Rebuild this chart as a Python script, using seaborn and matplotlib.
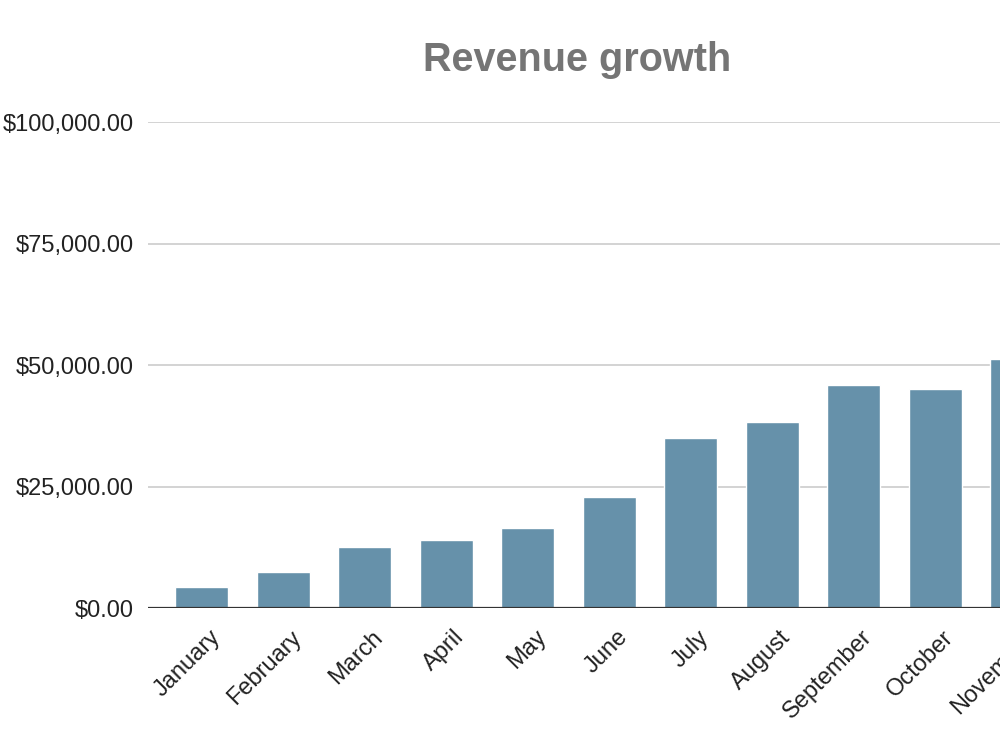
import matplotlib
matplotlib.use("Agg")
import matplotlib.pyplot as plt
import matplotlib.transforms as mtransforms
import seaborn as sns
from matplotlib.ticker import FuncFormatter

months = ["January", "February", "March", "April", "May", "June", "July",
          "August", "September", "October", "November"]
revenue = [4300, 7500, 12600, 13900, 16500, 22800, 35000, 38300, 45900,
           45000, 51200]
y_ticks = [0, 25000, 50000, 75000, 100000]

sns.set_theme(style="white")
plt.rcParams["font.family"] = ["Liberation Sans", "DejaVu Sans"]

fig = plt.figure(figsize=(10, 7.5), dpi=100)
# the chart runs past the right edge of the picture, so the axes do too
ax = fig.add_axes([0.148, 0.1893, 0.95, 0.648])

sns.barplot(x=months, y=revenue, color="#6691aa", saturation=1,
            width=0.65, ax=ax)

ax.set_xlim(-0.66, 11.0)
ax.set_ylim(0, 100000)
ax.set_yticks(y_ticks)
ax.yaxis.set_major_formatter(FuncFormatter(lambda v, p: f"${v:,.2f}"))
ax.grid(axis="y", color="#cccccc", linewidth=1.2)
ax.set_axisbelow(True)
ax.axhline(0, color="#333333", linewidth=1.6, zorder=3)

for s in ["top", "right", "left", "bottom"]:
    ax.spines[s].set_visible(False)

ax.tick_params(axis="y", length=0, pad=10, labelsize=17, labelcolor="#222222")
ax.tick_params(axis="x", length=0, pad=0, labelsize=17, labelcolor="#222222")
shift = mtransforms.ScaledTranslation(0.15, -0.26, fig.dpi_scale_trans)
for lab in ax.get_xticklabels():
    lab.set_rotation(45)
    lab.set_ha("right")
    lab.set_va("center")
    lab.set_rotation_mode("anchor")
    lab.set_transform(lab.get_transform() + shift)
ax.set_xlabel("")
ax.set_ylabel("")

fig.text(0.577, 0.92, "Revenue growth", ha="center", va="center",
         fontsize=28.5, fontweight="bold", color="#757575")

fig.savefig("out.png", dpi=100)
